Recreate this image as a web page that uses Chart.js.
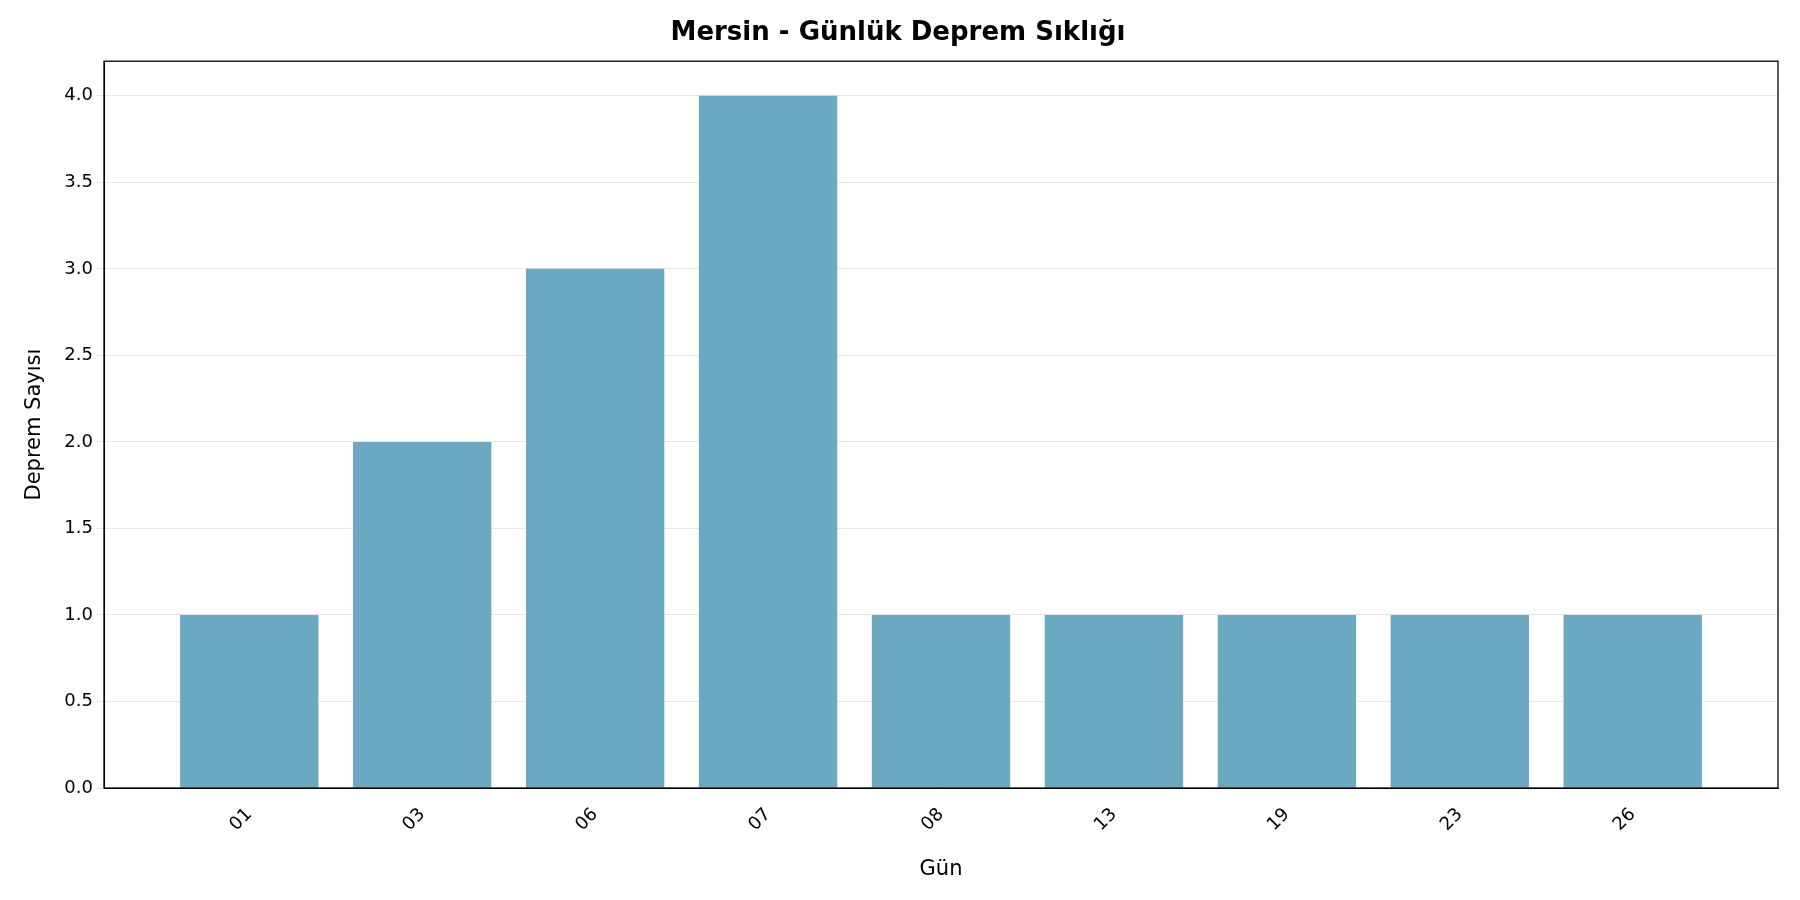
<!DOCTYPE html><html><head><script src="https://cdn.jsdelivr.net/npm/chart.js"></script>
<style>body{margin:0;background:#fff}#w{width:1800px;height:900px}</style></head><body><div id="w"><canvas id="c"></canvas></div>
<script>
const categories=["01","03","06","07","08","13","19","23","26"];
const counts=[1,2,3,4,1,1,1,1,1];
const yTicks=[0,0.5,1,1.5,2,2.5,3,3.5,4];
const frame={id:'frame',afterDraw(c){const a=c.chartArea,x=c.ctx;x.save();x.strokeStyle='#000';x.lineWidth=1.3;x.strokeRect(a.left,a.top,a.right-a.left,a.bottom-a.top);x.restore();}};
new Chart(document.getElementById('c'),{type:'bar',
data:{datasets:[{data:counts.map((v,i)=>({x:i,y:v})),backgroundColor:'#6ba9c3',categoryPercentage:1,barPercentage:0.8}]},
options:{responsive:true,maintainAspectRatio:false,animation:false,
layout:{padding:{left:18,right:22,top:0,bottom:14}},
plugins:{legend:{display:false},title:{display:true,text:'Mersin - Günlük Deprem Sıklığı',font:{family:'DejaVu Sans',size:26,weight:'bold'},color:'#000',padding:{top:18,bottom:12}}},
scales:{
x:{type:'linear',min:-0.84,max:8.84,offset:false,grid:{display:false},border:{color:'#000'},
afterBuildTicks(s){s.ticks=categories.map((_,i)=>({value:i}));},
afterFit(s){s.height=98;},
ticks:{callback:(v)=>categories[v],maxRotation:45,minRotation:45,color:'#000',padding:8,font:{family:'DejaVu Sans',size:18}},
title:{display:true,text:'Gün',color:'#000',font:{family:'DejaVu Sans',size:21},padding:{top:0}}},
y:{min:0,max:4.2,afterBuildTicks(s){s.ticks=yTicks.map(v=>({value:v}));},
afterFit(s){s.width=86;},
grid:{color:'#e6e6e6'},border:{color:'#000'},
ticks:{callback:v=>v.toFixed(1),color:'#000',font:{family:'DejaVu Sans',size:18}},
title:{display:true,text:'Deprem Sayısı',color:'#000',font:{family:'DejaVu Sans',size:21},padding:{bottom:4}}}}},
plugins:[frame]});
</script></body></html>
